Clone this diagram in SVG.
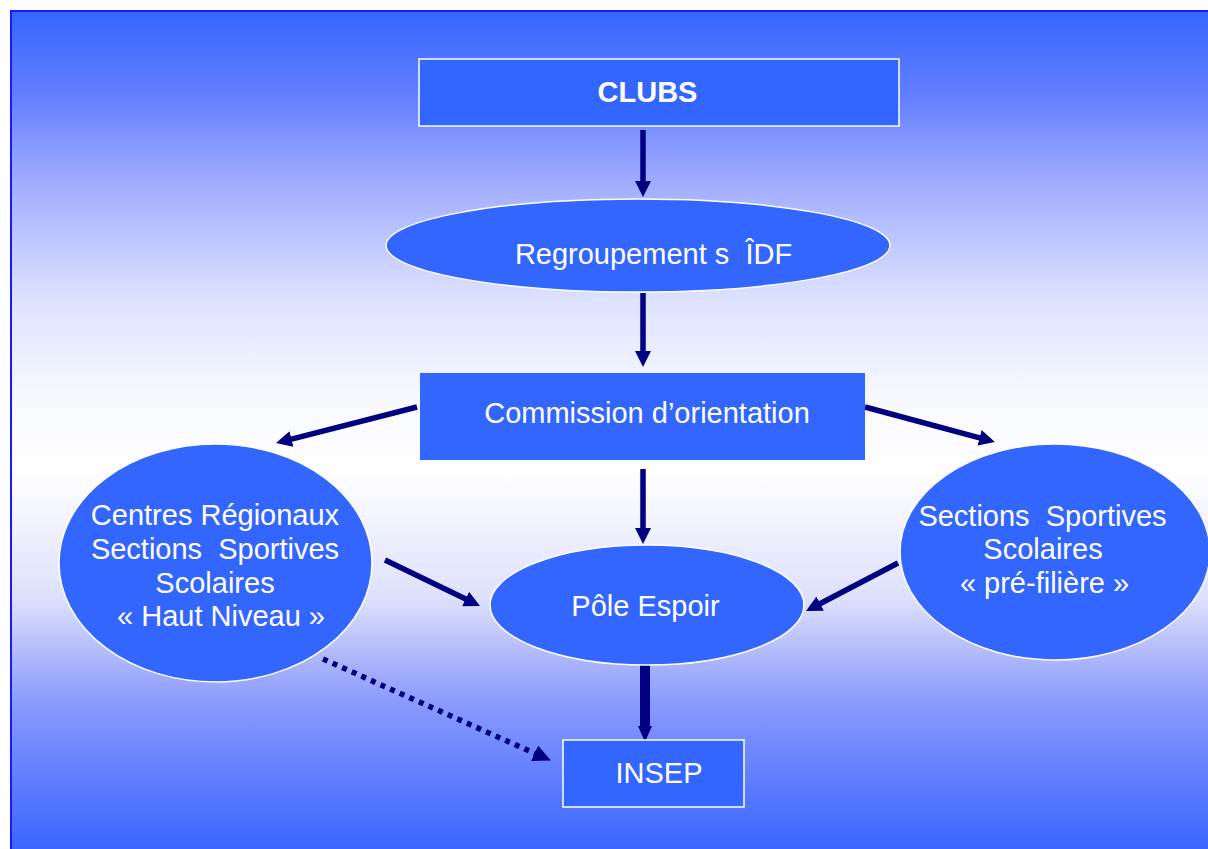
<svg xmlns="http://www.w3.org/2000/svg" width="1208" height="849" viewBox="0 0 1208 849">
<defs>
<linearGradient id="bg" gradientUnits="userSpaceOnUse" x1="0" y1="10" x2="0" y2="849">
<stop offset="0" stop-color="#3366ff"/>
<stop offset="0.107" stop-color="#6680ff"/>
<stop offset="0.187" stop-color="#97a4ff"/>
<stop offset="0.226" stop-color="#aab4ff"/>
<stop offset="0.345" stop-color="#dde2ff"/>
<stop offset="0.465" stop-color="#f8f9ff"/>
<stop offset="0.548" stop-color="#ffffff"/>
<stop offset="0.703" stop-color="#dde0fc"/>
<stop offset="0.763" stop-color="#b4bcfb"/>
<stop offset="0.822" stop-color="#8c9cfc"/>
<stop offset="0.894" stop-color="#6a84fd"/>
<stop offset="1" stop-color="#3a66ff"/>
</linearGradient>
<marker id="ah" viewBox="0 0 16 16" refX="3" refY="8" markerWidth="16" markerHeight="16" markerUnits="userSpaceOnUse" orient="auto">
<path d="M0,0 L16,8 L0,16 z" fill="#000080"/>
</marker>
<marker id="ahd" viewBox="0 0 18 17" refX="3" refY="8.5" markerWidth="18" markerHeight="17" markerUnits="userSpaceOnUse" orient="auto">
<path d="M0,0 L18,8.5 L0,17 z" fill="#000080"/>
</marker>
</defs>
<style>
.node{fill:#3366ff;stroke:#ffffff;stroke-width:1.5}
.lbl{font-family:"Liberation Sans",Arial,sans-serif;font-size:29px;fill:#ffffff;text-anchor:middle}
.bold{font-weight:bold}
.arr{stroke:#000080;stroke-width:5.5;fill:none}
</style>
<rect x="11" y="11" width="1210" height="850" fill="url(#bg)" stroke="#1a1aff" stroke-width="2"/>
<g id="connectors">
<line class="arr" x1="643" y1="130" x2="643" y2="184" marker-end="url(#ah)"/>
<line class="arr" x1="643" y1="293" x2="643" y2="354" marker-end="url(#ah)"/>
<line class="arr" x1="643" y1="469" x2="643" y2="531" marker-end="url(#ah)"/>
<line class="arr" x1="417" y1="407" x2="288.6" y2="439.8" marker-end="url(#ah)"/>
<line class="arr" x1="865" y1="407" x2="982.4" y2="438.6" marker-end="url(#ah)"/>
<line class="arr" x1="385" y1="560" x2="468.3" y2="600.3" marker-end="url(#ah)"/>
<line class="arr" x1="898" y1="563" x2="817.5" y2="605" marker-end="url(#ah)"/>
<line class="arr" x1="323" y1="659" x2="537.3" y2="754.5" stroke-dasharray="5 5.5" marker-end="url(#ahd)"/>
<line x1="645" y1="667" x2="645" y2="728" stroke="#000080" stroke-width="10" stroke-linecap="round"/>
<path d="M638,726 L652,726 L645,742 z" fill="#000080"/>
</g>
<g id="clubs">
<rect class="node" x="419" y="59" width="480" height="67"/>
<text class="lbl bold" x="647.5" y="101.5">CLUBS</text>
</g>
<g id="regroupements">
<ellipse class="node" cx="638" cy="245.5" rx="252" ry="46.5"/>
<text class="lbl" x="653.5" y="264" xml:space="preserve">Regroupement s  ÎDF</text>
</g>
<g id="commission">
<rect x="420" y="373" width="445" height="87" fill="#3366ff"/>
<text class="lbl" x="647" y="422.5">Commission d’orientation</text>
</g>
<g id="centres">
<ellipse class="node" cx="215.5" cy="563" rx="156.5" ry="119"/>
<text class="lbl" xml:space="preserve"><tspan x="215" y="524.5">Centres Régionaux</tspan><tspan x="215" y="559">Sections  Sportives</tspan><tspan x="215" y="592.5">Scolaires</tspan><tspan x="221" y="626">« Haut Niveau »</tspan></text>
</g>
<g id="sections">
<ellipse class="node" cx="1055" cy="552" rx="155" ry="108"/>
<text class="lbl" xml:space="preserve"><tspan x="1042.5" y="525.5">Sections  Sportives</tspan><tspan x="1043" y="559">Scolaires</tspan><tspan x="1044.5" y="592.5">« pré-filière »</tspan></text>
</g>
<g id="pole">
<ellipse class="node" cx="647" cy="605" rx="157" ry="60"/>
<text class="lbl" x="645.5" y="616">Pôle Espoir</text>
</g>
<g id="insep">
<rect class="node" x="563" y="740" width="181" height="67" stroke-width="2"/>
<text class="lbl" x="659" y="783">INSEP</text>
</g>
</svg>
